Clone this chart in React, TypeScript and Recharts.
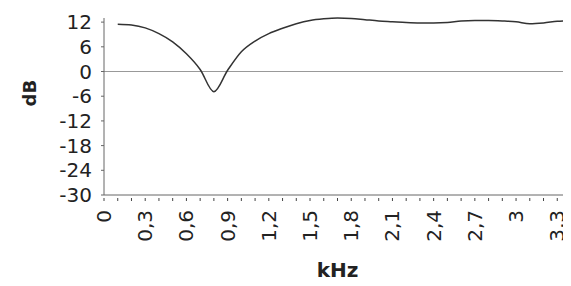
import React from 'react';
import { LineChart, Line, XAxis, YAxis, ReferenceLine, Label } from 'recharts';

// frequency (kHz) and level (dB)
const freqs = [0.1, 0.2, 0.3, 0.4, 0.5, 0.6, 0.7, 0.8, 0.9, 1.0, 1.1, 1.2, 1.3, 1.4, 1.5, 1.6, 1.7, 1.8, 1.9, 2.0, 2.1, 2.2, 2.3, 2.4, 2.5, 2.6, 2.7, 2.8, 2.9, 3.0, 3.1, 3.2, 3.3, 3.4];
const levels = [11.5, 11.3, 10.6, 9.2, 7.2, 4.3, 0.5, -4.9, 0.3, 4.8, 7.4, 9.2, 10.5, 11.6, 12.4, 12.8, 13.0, 12.9, 12.6, 12.3, 12.1, 11.9, 11.8, 11.8, 11.9, 12.3, 12.4, 12.4, 12.3, 12.1, 11.6, 11.8, 12.2, 12.4];

const xTicks = [0, 0.1, 0.2, 0.3, 0.4, 0.5, 0.6, 0.7, 0.8, 0.9, 1.0, 1.1, 1.2, 1.3, 1.4, 1.5, 1.6, 1.7, 1.8, 1.9, 2.0, 2.1, 2.2, 2.3, 2.4, 2.5, 2.6, 2.7, 2.8, 2.9, 3.0, 3.1, 3.2, 3.3, 3.4];
const xLabels = ['0', '0,3', '0,6', '0,9', '1,2', '1,5', '1,8', '2,1', '2,4', '2,7', '3', '3,3'];
const yTicks = [12, 6, 0, -6, -12, -18, -24, -30];

const data = freqs.map((f, i) => ({ f, db: levels[i] }));

const font = '"DejaVu Sans", sans-serif';
const ink = '#222';

const XTick = (props: any) => {
  const { x, y, index } = props;
  const label = index % 3 === 0 ? xLabels[index / 3] : null;
  return (
    <g>
      <line x1={x} y1={y - 5} x2={x} y2={y - 2} stroke="#444" strokeWidth={1} />
      {label != null && (
        <text
          transform={`translate(${x},${y + 7}) rotate(-90)`}
          textAnchor="end"
          dy="0.35em"
          fontSize={20}
          fontFamily={font}
          fill={ink}
        >
          {label}
        </text>
      )}
    </g>
  );
};

const App: React.FC = () => {
  return (
    <div style={{ width: 563, height: 278, overflow: 'visible' }}>
      <LineChart
        width={563}
        height={278}
        data={data}
        margin={{ top: 10, right: 0, bottom: 0, left: 0 }}
        style={{ overflow: 'visible' }}
      >
        <XAxis
          dataKey="f"
          type="number"
          domain={[0, 3.4]}
          ticks={xTicks}
          interval={0}
          tick={<XTick />}
          tickLine={false}
          axisLine={{ stroke: '#666' }}
          height={91}
        >
          <Label value="kHz" position="insideBottom" offset={9} fontSize={20} fontWeight="bold" fontFamily={font} fill={ink} />
        </XAxis>
        <YAxis
          type="number"
          domain={[-30, 13]}
          ticks={yTicks}
          interval={0}
          width={96}
          tickSize={3}
          tickMargin={9}
          tick={{ fontSize: 20, fontFamily: font, fill: ink }}
          tickLine={{ stroke: '#666' }}
          axisLine={{ stroke: '#666' }}
        >
          <Label value="dB" angle={-90} position="insideLeft" offset={22} fontSize={18} fontWeight="bold" fontFamily={font} fill={ink} />
        </YAxis>
        <ReferenceLine y={0} stroke="#999" strokeWidth={1.2} />
        <Line type="monotone" dataKey="db" stroke="#333" strokeWidth={1.5} dot={false} isAnimationActive={false} />
      </LineChart>
    </div>
  );
};

export default App;
